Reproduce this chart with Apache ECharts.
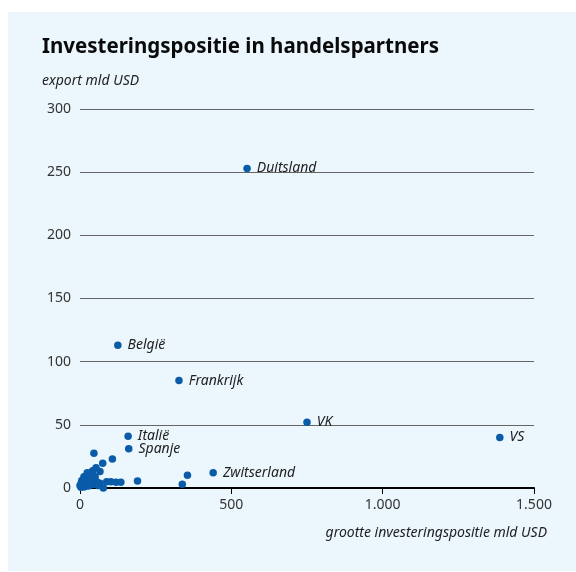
<!DOCTYPE html>
<html><head><meta charset="utf-8">
<script src="https://cdn.jsdelivr.net/npm/echarts@6/dist/echarts.min.js"></script>
<style>
html,body{margin:0;padding:0;background:#fff;}
#panel{position:absolute;left:8px;top:12px;width:568px;height:559px;background:#ebf6fd;}
#chart{position:absolute;left:0;top:0;width:576px;height:572px;}
</style></head>
<body>
<div id="panel"></div>
<div id="chart"></div>
<script>
// labelled countries
const namedCountries = ['Duitsland','België','Frankrijk','VK','VS','Italië','Spanje','Zwitserland'];
const namedInvest = [552, 125, 327, 750, 1387, 159, 161, 440];
const namedExport = [253, 113, 85, 52, 40, 41, 31, 12];

// other trading partners (unlabelled)
const otherInvest = [355, 338, 190, 107, 75, 46, 66, 53, 42, 33, 22, 13, 6, 0, 16, 27, 38, 50, 55, 66, 77, 33, 11, 88, 102, 119, 135, 4, 8, 18, 24, 30, 36, 10, 20, 45, 60, 3, 15, 28];
const otherExport = [10, 3, 5.5, 23, 19.5, 27.5, 13, 16, 13.7, 11.6, 10, 9, 6, 2, 4, 6, 7.7, 9, 5, 3.7, 0, 2.4, 1, 5, 5, 4.5, 4.5, 4, 3, 7, 12, 8, 4, 5, 2, 3, 2, 0.5, 1, 1.5];

const xTicks = [0, 500, 1000, 1500];
const yTicks = [0, 50, 100, 150, 200, 250, 300];

const blue = '#0a5ca8';
const chart = echarts.init(document.getElementById('chart'));
const fmtX = v => v >= 1000 ? Math.floor(v/1000) + '.' + String(v%1000).padStart(3,'0') : String(v);

chart.setOption({
  animation: false,
  title: [
    {text: 'Investeringspositie in handelspartners', left: 42, top: 37, padding: 0,
     textStyle: {fontFamily: 'Noto Sans', fontWeight: 'bold', fontSize: 20.5, color: '#0a0a0a'}},
    {text: 'export mld USD', left: 42, top: 74, padding: 0,
     textStyle: {fontFamily: 'Noto Sans', fontStyle: 'italic', fontWeight: 'normal', fontSize: 14, color: '#222'}}
  ],
  grid: {left: 80, right: 42, top: 109, bottom: 84},
  xAxis: {
    type: 'value', min: xTicks[0], max: xTicks[xTicks.length-1], interval: 500,
    name: 'grootte investeringspositie mld USD', nameLocation: 'end',
    nameGap: 0,
    nameTextStyle: {fontFamily: 'Noto Sans', fontStyle: 'italic', fontSize: 14, color: '#222',
      align: 'right', verticalAlign: 'top', padding: [38, -13, 0, 0]},
    axisLine: {show: true, lineStyle: {color: '#000', width: 2}},
    axisTick: {show: true, length: 6, lineStyle: {color: '#000', width: 1}},
    axisLabel: {fontFamily: 'Noto Sans', fontSize: 14, color: '#333', margin: 10, formatter: fmtX},
    splitLine: {show: false}
  },
  yAxis: {
    type: 'value', min: yTicks[0], max: yTicks[yTicks.length-1], interval: 50,
    axisLine: {show: false}, axisTick: {show: false},
    axisLabel: {fontFamily: 'Noto Sans', fontSize: 14, color: '#333', margin: 9},
    splitLine: {show: true, lineStyle: {color: '#666', width: 1}}
  },
  series: [
    {
      type: 'scatter', symbolSize: 7.5, itemStyle: {color: blue, opacity: 1},
      data: otherInvest.map((x, i) => [x, otherExport[i]])
    },
    {
      type: 'scatter', symbolSize: 7.5, itemStyle: {color: blue, opacity: 1},
      data: namedCountries.map((n, i) => ({name: n, value: [namedInvest[i], namedExport[i]]})),
      label: {show: true, position: 'right', distance: 6, formatter: p => p.name,
        fontFamily: 'Noto Sans', fontStyle: 'italic', fontSize: 14, color: '#222'}
    }
  ]
});
</script>
</body></html>
